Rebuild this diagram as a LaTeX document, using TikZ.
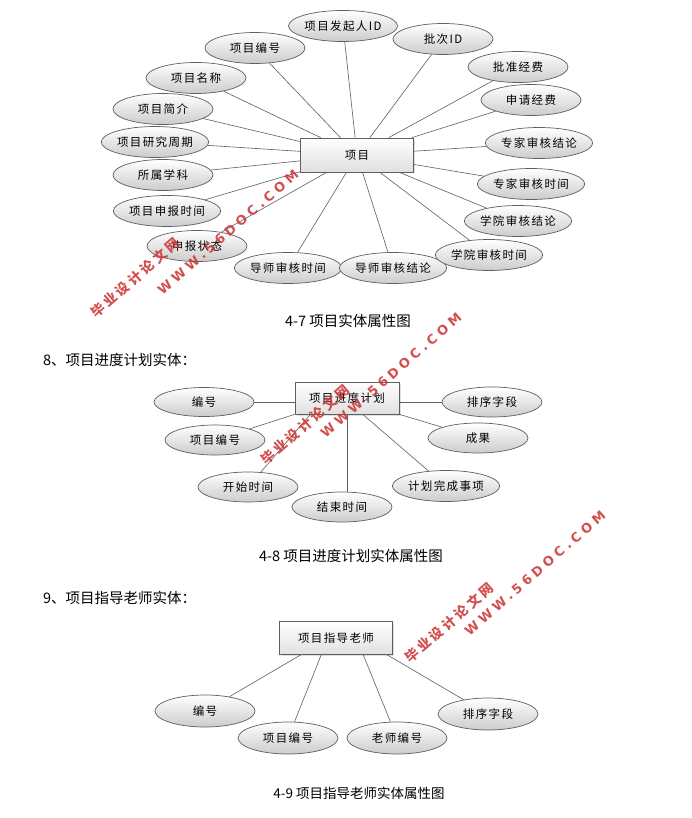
\documentclass[tikz,border=0pt]{standalone}
\usepackage{fontspec}
\setmainfont{Noto Sans CJK SC}
\usetikzlibrary{shapes.geometric,shadows,calc}
\newfontfamily\wmcjk[LetterSpace=22]{Noto Sans CJK SC}
\newfontfamily\wmlat[LetterSpace=30]{DejaVu Sans}
\newfontfamily\attrfont[LetterSpace=12]{Noto Sans CJK SC}
\definecolor{wm}{RGB}{205,55,55}
\definecolor{edgec}{RGB}{95,95,95}
\begin{document}
\begin{tikzpicture}[x=1pt,y=-1pt,
 attrib/.style={ellipse, draw=edgec, line width=0.7pt, top color=white, bottom color=black!20,
   minimum width=100pt, minimum height=31pt, inner sep=0pt, font=\attrfont\fontsize{11.5}{12}\selectfont},
 ent/.style={rectangle, draw=edgec, line width=0.7pt, top color=white, bottom color=black!12,
   drop shadow={opacity=0.25, shadow xshift=1.5pt, shadow yshift=-1.5pt}, inner sep=0pt,
   font=\attrfont\fontsize{11.5}{12}\selectfont},
 link/.style={draw=edgec, line width=0.6pt},
 captext/.style={font=\fontsize{14.5}{16}\selectfont, inner sep=0pt},
 wmc/.style={text=wm, text opacity=0.88, font=\wmcjk\bfseries\fontsize{13.5}{14}\selectfont, rotate=41, inner sep=0pt},
 wml/.style={text=wm, text opacity=0.88, font=\wmlat\bfseries\fontsize{13}{14}\selectfont, rotate=41, inner sep=0pt}]
\fill[white] (0,0) rectangle (691,818);
\useasboundingbox (0,0) rectangle (691,818);

% ---------- Diagram 4-7 ----------
\node[ent, minimum width=113pt, minimum height=34pt] (p) at (357,155) {项目};
\node[attrib] (a1) at (343,26) {项目发起人ID};
\node[attrib] (a2) at (255,48) {项目编号};
\node[attrib] (a3) at (196,78) {项目名称};
\node[attrib] (a4) at (163,109) {项目简介};
\node[attrib] (a5) at (155,142) {项目研究周期};
\node[attrib] (a6) at (163,175) {所属学科};
\node[attrib] (a7) at (167,211) {项目申报时间};
\node[attrib] (a8) at (197,246) {申报状态};
\node[attrib] (a9) at (288,268) {导师审核时间};
\node[attrib] (a10) at (393,268) {导师审核结论};
\node[attrib] (a11) at (489,255) {学院审核时间};
\node[attrib] (a12) at (518,221) {学院审核结论};
\node[attrib] (a13) at (531,184) {专家审核时间};
\node[attrib] (a14) at (539,143) {专家审核结论};
\node[attrib] (a15) at (531,100) {申请经费};
\node[attrib] (a16) at (518,67) {批准经费};
\node[attrib] (a17) at (443,39) {批次ID};
\foreach \n in {a1,a2,a3,a4,a5,a6,a7,a8,a9,a10,a11,a12,a13,a14,a15,a16,a17}
  \draw[link] (\n) -- (p);

\node[captext] (t1) at (348,321) {4-7 项目实体属性图};
\node[captext, anchor=west] (h8) at (43,360) {8、项目进度计划实体：};

% ---------- Diagram 4-8 ----------
\node[ent, minimum width=104pt, minimum height=32pt] (q) at (347,398) {项目进度计划};
\node[attrib, minimum height=29pt] (c1) at (204,402) {编号};
\node[attrib, minimum height=30pt] (c2) at (215,440) {项目编号};
\node[attrib, minimum height=30pt] (c3) at (248,487) {开始时间};
\node[attrib, minimum height=30pt] (c4) at (342,507) {结束时间};
\node[attrib, minimum height=31pt] (c5) at (446,486) {计划完成事项};
\node[attrib, minimum height=30pt] (c6) at (478,438) {成果};
\node[attrib, minimum height=30pt] (c7) at (492,402) {排序字段};
\draw[link] (c1.east) -- (c1.east -| q.west);
\draw[link] (c2) -- (q.south west);
\draw[link] (c3) -- ($(q.south west)!0.15!(q.south east)$);
\draw[link] (q.south) -- (q.south |- c4.north);
\draw[link] (c5) -- ($(q.south west)!0.65!(q.south east)$);
\draw[link] (c6) -- (q.south east);
\draw[link] (c7.west) -- (c7.west -| q.east);

\node[captext] (t2) at (351,556) {4-8 项目进度计划实体属性图};
\node[captext, anchor=west] (h9) at (43,598) {9、项目指导老师实体：};

% ---------- Diagram 4-9 ----------
\node[ent, minimum width=113pt, minimum height=33pt] (r) at (336,638) {项目指导老师};
\node[attrib, minimum height=32pt] (d1) at (205,711) {编号};
\node[attrib, minimum height=32pt] (d2) at (288,738) {项目编号};
\node[attrib, minimum height=32pt] (d3) at (397,738) {老师编号};
\node[attrib, minimum height=32pt] (d4) at (488,714) {排序字段};
\draw[link] (d1) -- ($(r.south west)!0.19!(r.south east)$);
\draw[link] (d2) -- ($(r.south west)!0.37!(r.south east)$);
\draw[link] (d3) -- ($(r.south west)!0.74!(r.south east)$);
\draw[link] (d4) -- ($(r.south west)!0.95!(r.south east)$);

\node[captext, font=\fontsize{13.5}{15}\selectfont] (t3) at (359,793) {4-9 项目指导老师实体属性图};

% ---------- Watermarks ----------
\node[wmc] (w1c) at (135,278) {毕业设计论文网};
\node[wml] (w1l) at (228,232) {WWW.56DOC.COM};
\node[wmc] (w2c) at (305,425) {毕业设计论文网};
\node[wml] (w2l) at (391,375) {WWW.56DOC.COM};
\node[wmc] (w3c) at (449,623) {毕业设计论文网};
\node[wml] (w3l) at (535,573) {WWW.56DOC.COM};
\end{tikzpicture}
\end{document}
